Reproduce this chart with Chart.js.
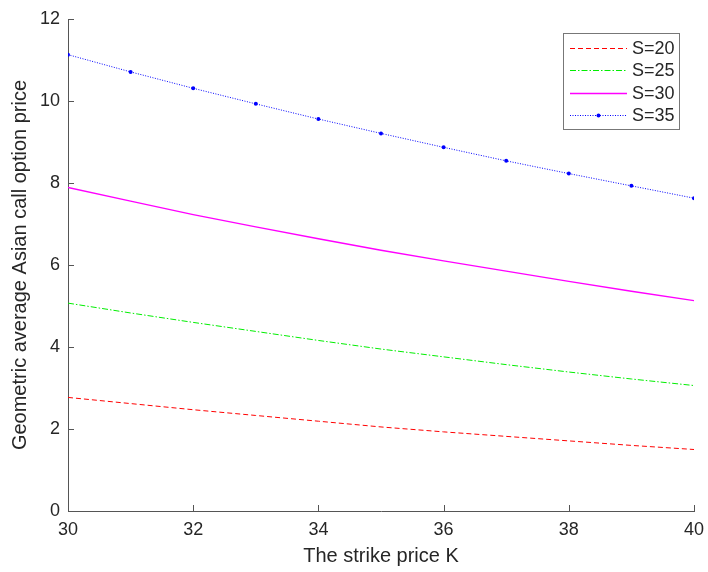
<!DOCTYPE html>
<html>
<head>
<meta charset="utf-8">
<script src="https://cdn.jsdelivr.net/npm/chart.js@4/dist/chart.umd.min.js"></script>
<style>
  html, body { margin: 0; padding: 0; background: #fff; }
  #wrap { width: 708px; height: 572px; }
</style>
</head>
<body>
<div id="wrap"><canvas id="priceChart" width="708" height="572"></canvas></div>
<script>
// strike prices K
const strikes = [30, 31, 32, 33, 34, 35, 36, 37, 38, 39, 40];

// option prices for each spot price S
const priceS20 = [2.77, 2.62, 2.47, 2.33, 2.19, 2.05, 1.93, 1.82, 1.71, 1.60, 1.50];
const priceS25 = [5.07, 4.83, 4.60, 4.38, 4.16, 3.95, 3.76, 3.57, 3.39, 3.22, 3.06];
const priceS30 = [7.89, 7.56, 7.23, 6.93, 6.64, 6.36, 6.10, 5.85, 5.60, 5.36, 5.13];
const priceS35 = [11.13, 10.71, 10.31, 9.93, 9.56, 9.21, 8.87, 8.54, 8.23, 7.93, 7.63];

const xTicks = [30, 32, 34, 36, 38, 40];
const yTicks = [0, 2, 4, 6, 8, 10, 12];

const textColor = '#262626';
const axisColor = '#555555';
const fontFamily = '"Liberation Sans", Arial, sans-serif';

function toPoints(values) {
  return strikes.map((k, i) => ({ x: k, y: values[i] }));
}

// MATLAB style ticks pointing into the plot
const inwardTicks = {
  id: 'inwardTicks',
  afterDraw(chart) {
    const ctx = chart.ctx;
    const xs = chart.scales.x;
    const ys = chart.scales.y;
    const len = 6;
    ctx.save();
    ctx.strokeStyle = axisColor;
    ctx.lineWidth = 1;
    ctx.beginPath();
    xTicks.forEach(v => {
      const px = Math.round(xs.getPixelForValue(v)) + 0.5;
      ctx.moveTo(px, ys.bottom);
      ctx.lineTo(px, ys.bottom - len);
    });
    yTicks.forEach(v => {
      const py = Math.round(ys.getPixelForValue(v)) + 0.5;
      ctx.moveTo(xs.left, py);
      ctx.lineTo(xs.left + len, py);
    });
    ctx.stroke();
    ctx.restore();
  }
};

// legend box inside the plot, top right
const boxLegend = {
  id: 'boxLegend',
  afterDraw(chart) {
    const ctx = chart.ctx;
    const left = 563, top = 33, w = 116, h = 96;
    ctx.save();
    ctx.fillStyle = '#fff';
    ctx.fillRect(left, top, w, h);
    ctx.strokeStyle = '#777';
    ctx.lineWidth = 1;
    ctx.strokeRect(left + 0.5, top + 0.5, w, h);
    ctx.font = '18px ' + fontFamily;
    ctx.textBaseline = 'middle';
    ctx.textAlign = 'left';
    chart.data.datasets.forEach((ds, i) => {
      const y = Math.round(top + 15 + i * 22.3) + 0.5;
      ctx.strokeStyle = ds.borderColor;
      ctx.lineWidth = ds.borderWidth;
      ctx.setLineDash(ds.borderDash || []);
      ctx.beginPath();
      ctx.moveTo(570, y);
      ctx.lineTo(627, y);
      ctx.stroke();
      ctx.setLineDash([]);
      if (ds.pointRadius > 0) {
        ctx.fillStyle = ds.pointBackgroundColor;
        ctx.beginPath();
        ctx.arc(598.5, y, ds.pointRadius, 0, Math.PI * 2);
        ctx.fill();
      }
      ctx.fillStyle = textColor;
      ctx.fillText(ds.label, 632, y + 1);
    });
    ctx.restore();
  }
};

const ctx = document.getElementById('priceChart').getContext('2d');
const priceChart = new Chart(ctx, {
  type: 'line',
  data: {
    datasets: [{
      label: 'S=20',
      data: toPoints(priceS20),
      borderColor: '#ff0000',
      borderWidth: 1,
      borderDash: [5, 3],
      pointRadius: 0
    }, {
      label: 'S=25',
      data: toPoints(priceS25),
      borderColor: '#00ee00',
      borderWidth: 1,
      borderDash: [6, 2, 1.5, 2],
      pointRadius: 0
    }, {
      label: 'S=30',
      data: toPoints(priceS30),
      borderColor: '#ff00ff',
      borderWidth: 1.3,
      pointRadius: 0
    }, {
      label: 'S=35',
      data: toPoints(priceS35),
      borderColor: '#0000ff',
      borderWidth: 1,
      borderDash: [1, 1.5],
      pointRadius: 2,
      pointBackgroundColor: '#0000ff',
      pointBorderWidth: 0
    }]
  },
  options: {
    responsive: false,
    animation: false,
    layout: {
      padding: { top: 19, right: 14, left: 0, bottom: 0 }
    },
    plugins: {
      legend: { display: false },
      tooltip: { enabled: false }
    },
    scales: {
      x: {
        type: 'linear',
        min: 30,
        max: 40,
        afterFit: scale => {
          scale.height = 61;
          scale.paddingRight = 0;
          scale.paddingLeft = 0;
        },
        afterBuildTicks: scale => { scale.ticks = xTicks.map(v => ({ value: v })); },
        grid: { display: false, drawTicks: false },
        border: { display: true, color: axisColor, width: 1 },
        ticks: {
          padding: 8,
          color: textColor,
          font: { family: fontFamily, size: 18 }
        },
        title: {
          display: true,
          text: 'The strike price K',
          color: textColor,
          font: { family: fontFamily, size: 20 },
          padding: { top: 4, bottom: 4 }
        }
      },
      y: {
        min: 0,
        max: 12,
        afterFit: scale => { scale.width = 68; },
        afterBuildTicks: scale => { scale.ticks = yTicks.map(v => ({ value: v })); },
        grid: { display: false, drawTicks: false },
        border: { display: true, color: axisColor, width: 1 },
        ticks: {
          padding: 8,
          color: textColor,
          font: { family: fontFamily, size: 18 }
        },
        title: {
          display: true,
          text: 'Geometric average Asian call option price',
          color: textColor,
          font: { family: fontFamily, size: 20 },
          padding: { top: 8, bottom: 4 }
        }
      }
    }
  },
  plugins: [inwardTicks, boxLegend]
});
</script>
</body>
</html>
